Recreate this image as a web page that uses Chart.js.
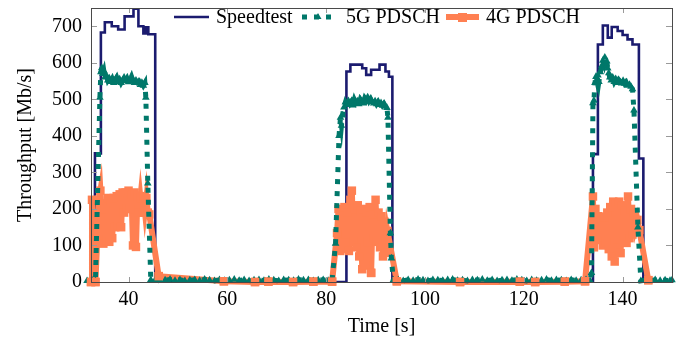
<!DOCTYPE html>
<html>
<head>
<meta charset="utf-8">
<script src="https://cdn.jsdelivr.net/npm/chart.js@4.4.0/dist/chart.umd.min.js"></script>
<style>
  html, body { margin: 0; background: #fff; }
</style>
</head>
<body>
<canvas id="chart" width="681" height="341"></canvas>
<script>
// Speedtest: level starts at each time and holds until the next one
const speedT = [32.4, 33.2, 34.4, 35.2, 36.6, 37.9, 39.2, 41.0, 42.0, 43.0, 43.5, 44.0, 45.4,
  84.1, 84.9, 87.3, 88.1, 89.1, 90.8, 92.0, 92.7, 93.4,
  134.0, 135.0, 136.0, 137.0, 137.8, 139.0, 140.0, 141.0, 142.0, 143.3, 144.2, 150.0];
const speedV = [0, 352, 683, 711, 700, 691, 727, 748, 700, 680, 697, 678, 0,
  576, 595, 585, 567, 581, 595, 576, 562, 0,
  350, 650, 702, 669, 698, 687, 676, 664, 650, 338, 0, 0];

// 5G PDSCH
const fiveT = [31.6, 32.6, 33.3, 34.2, 34.4, 34.6, 34.8, 35.0, 35.2, 35.5, 35.8, 36.1, 36.4, 36.7, 37.0,
  37.3, 37.6, 37.9, 38.2, 38.5, 38.8, 39.1, 39.4, 39.7, 40.0, 40.3, 40.6, 40.9, 41.2, 41.5, 41.8,
  42.1, 42.4, 42.7, 43.0, 43.3, 43.5, 43.9, 44.5,
  45.4, 46.4, 47.4, 48.4, 49.4, 50.4, 51.4, 52.4, 53.4, 54.4, 55.4, 56.4, 57.4, 58.4, 59.4, 60.4,
  61.4, 62.4, 63.4, 64.4, 65.4, 66.4, 67.4, 68.4, 69.4, 70.4, 71.4, 72.4, 73.4, 74.4, 75.4, 76.4,
  77.4, 78.4, 79.4, 80.4, 81.2,
  81.9, 82.6, 82.9, 83.1, 83.3, 83.6, 83.9, 84.2, 84.5, 84.8, 85.1, 85.4, 85.7, 86.0, 86.3, 86.6,
  86.9, 87.2, 87.5, 87.8, 88.1, 88.4, 88.7, 89.0, 89.3, 89.6, 89.9, 90.2, 90.5, 90.8, 91.1, 91.4,
  91.7, 92.0, 92.3, 92.5, 93.0, 93.2, 93.6,
  94.6, 95.6, 96.6, 97.6, 98.6, 99.6, 100.6, 101.6, 102.6, 103.6, 104.6, 105.6, 106.6, 107.6,
  108.6, 109.6, 110.6, 111.6, 112.6, 113.6, 114.6, 115.6, 116.6, 117.6, 118.6, 119.6, 120.6,
  121.6, 122.6, 123.6, 124.6, 125.6, 126.6, 127.6, 128.6, 129.6, 130.6, 131.6, 132.6,
  133.4, 133.7, 134.0, 134.2, 134.4, 134.6, 134.8, 135.0, 135.2, 135.5, 135.8, 136.0, 136.2,
  136.4, 136.6, 136.8, 137.0, 137.2, 137.4, 137.7, 138.0, 138.3, 138.6, 138.9, 139.2, 139.5,
  139.8, 140.1, 140.4, 140.7, 141.0, 141.4, 141.7, 142.0, 142.3, 143.1, 143.7,
  144.6, 145.6, 146.6, 147.6, 148.6, 149.6, 150.0];
const fiveV = [3, 5, 4, 505, 575, 586, 570, 578, 560, 566, 552, 558, 548, 556, 545,
  553, 560, 548, 555, 545, 552, 560, 550, 557, 547, 553, 562, 550, 545, 552, 546,
  549, 540, 546, 538, 545, 505, 270, 6,
  6, 3, 5, 7, 4, 6, 3, 5, 6, 4, 7, 5, 3, 6, 4, 5,
  7, 4, 6, 3, 5, 6, 4, 7, 5, 3, 6, 5, 4, 7, 5, 6,
  3, 5, 6, 4, 5,
  105, 400, 450, 428, 456, 478, 492, 485, 496, 488, 494, 484, 499, 490, 495, 487,
  500, 494, 489, 503, 497, 506, 495, 501, 493, 489, 495, 487, 493, 485, 490, 483,
  488, 481, 477, 450, 134, 65, 5,
  5, 3, 6, 4, 7, 5, 3, 6, 5, 4, 6, 7, 4, 5,
  3, 6, 5, 7, 4, 6, 3, 5, 6, 4, 7, 5, 3,
  6, 4, 5, 7, 4, 6, 5, 3, 6, 4, 5, 6,
  4, 25, 490, 497, 545, 562, 550, 566, 548, 575, 592, 606, 598,
  615, 590, 604, 585, 572, 560, 552, 560, 548, 556, 545, 553, 548,
  544, 551, 543, 547, 538, 540, 535, 528, 470, 150, 3,
  5, 4, 6, 4, 5, 4, 5];

// 4G PDSCH
const fourT = [32.4, 32.6, 33.3, 34.0, 34.3, 34.6, 34.9, 35.2, 35.5, 35.8, 36.1, 36.4, 36.7, 37.0,
  37.3, 37.6, 37.9, 38.2, 38.5, 38.8, 39.1, 39.4, 39.7, 40.0, 40.3, 40.6, 40.9, 41.2, 41.5, 41.8,
  42.1, 42.4, 42.7, 43.0, 43.3, 43.6, 43.9, 44.2, 46.1,
  59.3, 65.6, 68.3, 73.3, 77.4, 81.2,
  82.2, 82.5, 82.8, 83.1, 83.4, 83.7, 84.0, 84.3, 84.6, 84.9, 85.2, 85.5, 85.8, 86.1, 86.4, 86.7,
  87.0, 87.3, 87.6, 87.9, 88.2, 88.5, 88.8, 89.1, 89.4, 89.7, 90.0, 90.3, 90.6, 90.9, 91.2, 91.5,
  91.8, 92.1, 92.4, 94.3,
  107.1, 119.2, 122.3, 128.3, 132.4,
  134.0, 134.2, 134.5, 134.8, 135.1, 135.4, 135.7, 136.0, 136.3, 136.6, 136.9, 137.2, 137.5,
  137.8, 138.1, 138.4, 138.7, 139.0, 139.3, 139.6, 139.9, 140.2, 140.5, 140.8, 141.1, 141.4,
  141.7, 142.0, 142.3, 142.6, 143.0, 143.4, 145.2];
const fourV = [0, 225, 0, 225, 250, 175, 105, 215, 115, 230, 110, 220, 120, 230,
  150, 235, 155, 240, 150, 245, 190, 245, 200, 250, 200, 240, 100, 245, 96, 235,
  190, 230, 190, 235, 195, 230, 190, 185, 16,
  2, 0, 1, 0, 1, 1,
  134, 200, 85, 195, 90, 205, 130, 190, 85, 225, 250, 110, 200, 95, 210, 70,
  195, 35, 200, 45, 190, 110, 205, 25, 185, 120, 225, 110, 190, 95, 180, 70,
  165, 80, 140, 2,
  0, 1, 0, 1, 2,
  234, 95, 200, 115, 180, 120, 175, 100, 178, 110, 190, 90, 205,
  70, 220, 56, 215, 95, 220, 79, 210, 110, 195, 107, 234, 120,
  200, 130, 190, 150, 170, 142, 5];

const xTicks = [40, 60, 80, 100, 120, 140];
const yTicks = [0, 100, 200, 300, 400, 500, 600, 700];

const NAVY = '#1b1b6f';
const TEAL = '#00786a';
const ORANGE = '#ff8052';
const FONT = '"Liberation Serif", "Times New Roman", serif';

const pts = (xs, ys) => xs.map((x, i) => ({ x: x, y: ys[i] }));

const framePlugin = {
  id: 'frame',
  afterDraw(chart) {
    const { ctx, chartArea: a, scales } = chart;
    ctx.save();
    ctx.strokeStyle = '#9a9a9a';
    ctx.lineWidth = 1;
    ctx.beginPath();
    xTicks.forEach(v => {
      const px = Math.round(scales.x.getPixelForValue(v)) + 0.5;
      ctx.moveTo(px, a.bottom); ctx.lineTo(px, a.bottom - 5);
      ctx.moveTo(px, a.top); ctx.lineTo(px, a.top + 5);
    });
    yTicks.forEach(v => {
      const py = Math.round(scales.y.getPixelForValue(v)) + 0.5;
      ctx.moveTo(a.left, py); ctx.lineTo(a.left + 6, py);
      ctx.moveTo(a.right, py); ctx.lineTo(a.right - 6, py);
    });
    ctx.stroke();
    ctx.strokeStyle = '#4a4a4a';
    ctx.strokeRect(Math.round(a.left) + 0.5, Math.round(a.top) + 0.5,
      Math.round(a.right - a.left), Math.round(a.bottom - a.top));

    // legend, inside the top of the plot
    const y = 17;
    ctx.font = '20px ' + FONT;
    ctx.fillStyle = '#000';
    ctx.textBaseline = 'middle';

    ctx.strokeStyle = NAVY;
    ctx.lineWidth = 2.6;
    ctx.beginPath(); ctx.moveTo(174, y); ctx.lineTo(209, y); ctx.stroke();
    ctx.fillText('Speedtest', 216, y + 1);

    ctx.strokeStyle = TEAL;
    ctx.lineWidth = 5;
    ctx.setLineDash([5, 7]);
    ctx.beginPath(); ctx.moveTo(302, y); ctx.lineTo(334, y); ctx.stroke();
    ctx.setLineDash([]);
    ctx.fillStyle = TEAL;
    ctx.beginPath(); ctx.moveTo(318, y - 4); ctx.lineTo(321.5, y + 2); ctx.lineTo(314.5, y + 2); ctx.closePath(); ctx.fill();
    ctx.fillStyle = '#000';
    ctx.fillText('5G PDSCH', 346, y + 1);

    ctx.strokeStyle = ORANGE;
    ctx.lineWidth = 6;
    ctx.beginPath(); ctx.moveTo(446, y); ctx.lineTo(479, y); ctx.stroke();
    ctx.fillStyle = ORANGE;
    ctx.fillRect(458, y - 4, 9, 9);
    ctx.fillStyle = '#000';
    ctx.fillText('4G PDSCH', 486, y + 1);
    ctx.restore();
  }
};

new Chart(document.getElementById('chart'), {
  type: 'line',
  data: {
    datasets: [
      {
        label: 'Speedtest',
        data: pts(speedT, speedV),
        borderColor: NAVY,
        borderWidth: 2.6,
        stepped: 'before',
        pointRadius: 0,
        order: 4
      },
      {
        label: '5G PDSCH',
        data: pts(fiveT, fiveV),
        borderColor: TEAL,
        borderWidth: 5,
        borderDash: [5, 7],
        pointStyle: 'triangle',
        pointRadius: 4.4,
        pointBackgroundColor: TEAL,
        pointBorderWidth: 0,
        clip: false,
        order: 2
      },
      {
        label: '4G PDSCH',
        data: pts(fourT, fourV),
        borderColor: ORANGE,
        borderWidth: 6,
        pointStyle: 'rect',
        pointRadius: 6,
        pointBackgroundColor: ORANGE,
        pointBorderWidth: 0,
        clip: false,
        order: 3
      },
      {
        label: '4G marks',
        data: pts(fourT, fourV),
        showLine: false,
        pointStyle: 'rect',
        pointRadius: c => (c.raw && c.raw.y < 30 ? 6 : 0),
        pointBackgroundColor: ORANGE,
        pointBorderWidth: 0,
        clip: false,
        order: 1
      }
    ]
  },
  options: {
    responsive: false,
    animation: false,
    devicePixelRatio: 1,
    layout: { padding: { top: 8, right: 9, left: 0, bottom: 0 } },
    plugins: {
      legend: { display: false },
      tooltip: { enabled: false }
    },
    elements: { line: { tension: 0 } },
    scales: {
      x: {
        type: 'linear',
        min: 32.4,
        max: 150,
        afterFit: s => { s.height = 59; s.paddingLeft = 0; s.paddingRight = 0; },
        afterBuildTicks: s => { s.ticks = xTicks.map(v => ({ value: v })); },
        ticks: { padding: 6, color: '#000', font: { family: FONT, size: 20 }, maxRotation: 0 },
        grid: { display: false, drawTicks: false },
        border: { display: false },
        title: { display: true, text: 'Time [s]', color: '#000', font: { family: FONT, size: 20 }, padding: { top: 0, bottom: 2 } }
      },
      y: {
        min: 0,
        max: 750,
        afterFit: s => { s.width = 91; s.paddingTop = 0; s.paddingBottom = 0; },
        afterBuildTicks: s => { s.ticks = yTicks.map(v => ({ value: v })); },
        ticks: { padding: 9, color: '#000', font: { family: FONT, size: 20 } },
        grid: { display: false, drawTicks: false },
        border: { display: false },
        title: { display: true, text: 'Throughput [Mb/s]', color: '#000', font: { family: FONT, size: 20 }, padding: { top: 14 } }
      }
    }
  },
  plugins: [framePlugin]
});
</script>
</body>
</html>
